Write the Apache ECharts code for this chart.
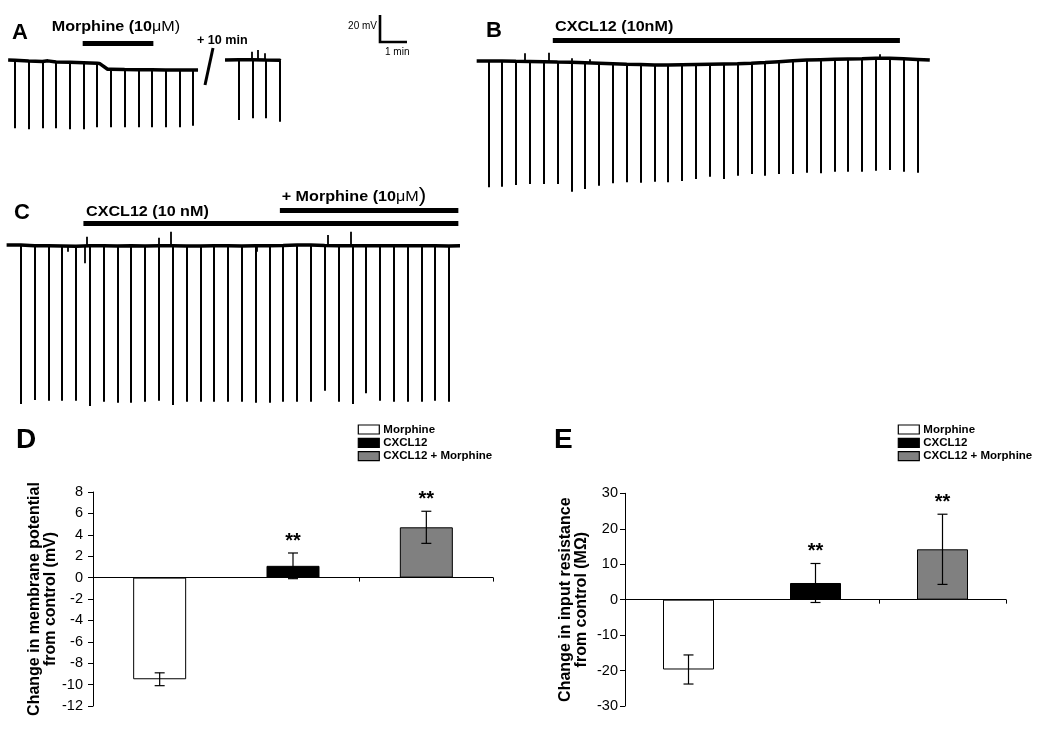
<!DOCTYPE html>
<html>
<head>
<meta charset="utf-8">
<script src="https://cdn.jsdelivr.net/npm/echarts@6/dist/echarts.min.js"></script>
<style>html,body{margin:0;padding:0;background:#fff}#c{width:1050px;height:730px}</style>
</head>
<body>
<div id="c"></div>
<script>
// ---------- Trace data (time in min, membrane potential in mV) ----------
// Panel A, before break
const aTimes   = [0,0.5,1,1.5,2,2.5,3,3.5,4,4.5,5,5.5,6,6.5];
const aTops    = [-59.5,-60,-60.3,-60.7,-61,-61.3,-61.7,-66.2,-66.4,-66.5,-66.5,-66.7,-66.8,-66.8];
const aBottoms = [-110.5,-111.2,-110.5,-110.5,-111.2,-111.2,-109.7,-109.7,-109.7,-109.7,-109.7,-109.7,-109.7,-108.5];
const aExtra   = [[-0.25,-59.3],[1.2,-59.9],[3.08,-61.8],[3.38,-66.2],[6.68,-66.8]];
const aSpikes  = [];
// Panel A, after +10 min
const a2Times   = [0.5,1.0,1.5,2.0];
const a2Tops    = [-59,-59,-59.3,-59.5];
const a2Bottoms = [-104.3,-103,-103,-105.5];
const a2Extra   = [[0,-59.3],[2.03,-59.8]];
const a2Spikes  = [[0.97,-59,-53],[1.21,-59.1,-51.8],[1.46,-59.3,-54.2]];
// Panel B
const bTimes   = [0,0.5,1,1.5,2,2.5,3,3.5,4,4.5,5,5.5,6,6.5,7,7.5,8,8.5,9,9.5,10,10.5,11,11.5,12,12.5,13,13.5,14,14.5,15,15.5];
const bTops    = [-60,-60,-60.2,-60.3,-60.5,-60.8,-61,-61.3,-61.6,-62,-62.4,-62.7,-63,-63,-62.8,-62.6,-62.4,-62.2,-62,-61.7,-61.2,-60.5,-59.8,-59.3,-59,-58.7,-58.5,-58.3,-58,-58,-58.3,-58.8];
const bBottoms = [-154.7,-154.3,-153,-152.3,-152.3,-152.3,-158,-156,-153.5,-151.7,-151,-151.3,-150.5,-151,-150,-148.5,-146.8,-148.5,-146,-144.8,-146,-144.8,-144.8,-143.8,-144.2,-143,-143,-143,-142.3,-141.8,-143,-143.8];
const bExtra   = [[-0.42,-60],[15.95,-59.3]];
const bSpikes  = [[1.33,-60.3,-54.2],[2.19,-60.6,-53.8],[3.01,-61,-58],[3.67,-61.4,-58.7],[14.15,-58,-55]];
// Panel C
const cTimes   = [0,0.5,1,1.5,2,2.5,3,3.5,4,4.5,5,5.5,6,6.5,7,7.5,8,8.5,9,9.5,10,10.5,11,11.5,12,12.5,13,13.5,14,14.5,15,15.5];
const cTops    = [-59.5,-60,-60,-60.2,-60.5,-60,-60,-60.2,-60,-60.3,-60,-60,-60.3,-60.2,-60,-60,-60.3,-60,-60,-59.8,-59.5,-59.5,-59.8,-60,-60,-60,-60,-60,-60,-60,-60,-60.2];
const cBottoms = [-178.7,-175.7,-176.2,-176.2,-176.2,-180.2,-177,-177.7,-177.7,-177,-176.2,-179.5,-177,-177,-177,-177,-177,-177.7,-177.7,-177,-177,-177,-168.7,-177,-178.7,-170.7,-176.2,-177,-177,-177,-176.2,-177];
const cExtra   = [[-0.51,-59.5],[15.9,-60]];
const cSpikes  = [[1.72,-60,-64.5],[2.33,-60,-73.2],[2.4,-60,-53.3],[4.98,-60,-54],[5.43,-60,-49.5],[8.54,-60,-64.5],[11.13,-60,-52],[11.96,-60,-49.5]];
// Drug application bars: [start min, end min, level mV]
const drugBarsA = [[2.47,5.05,-46.7]];
const drugBarsB = [[2.33,14.87,-44.25]];
const drugBarsC = [[2.27,15.84,-43.2],[9.38,15.84,-33.75]];

// ---------- Bar chart data ----------
const groups = ['Morphine','CXCL12','CXCL12 + Morphine'];
const meanD = [-9.5, 1.1, 4.7];
const errD  = [0.6, 1.2, 1.5];
const sigD  = ['', '**', '**'];
const meanE = [-19.7, 4.7, 14.2];
const errE  = [4.1, 5.5, 9.9];
const sigE  = ['', '**', '**'];
const ticksD = {min:-12, max:8, interval:2};
const ticksE = {min:-30, max:30, interval:10};

// ---------- styling / layout ----------
const FONT = "'Liberation Sans', Arial, Helvetica, sans-serif";
const groupColors = ['#ffffff','#000000','#808080'];

const traceGrids = [
  {left:1.3,   top:34.33, width:205.5,  height:100,    xMin:-0.5, xMax:7,    yMin:-115, yMax:-40},
  {left:225,   top:34.33, width:60.28,  height:100,    xMin:0,    xMax:2.2,  yMin:-115, yMax:-40},
  {left:474.46,top:34.33, width:470.56, height:166.67, xMin:-0.5, xMax:16.5, yMin:-165, yMax:-40},
  {left:4.12,  top:205.7, width:458.66, height:213.33, xMin:-0.6, xMax:16,   yMin:-190, yMax:-30}
];

function traceSeries(idx, times, tops, bottoms, extra, spikes, drugs) {
  const base = extra.concat(times.map((t,i)=>[t,tops[i]])).sort((a,b)=>a[0]-b[0]);
  const s = [
    {type:'line', xAxisIndex:idx, yAxisIndex:idx, data:base, symbol:'none', silent:true,
     lineStyle:{color:'#000', width:3.5}},
    {type:'lines', coordinateSystem:'cartesian2d', xAxisIndex:idx, yAxisIndex:idx, silent:true,
     data: times.map((t,i)=>({coords:[[t,tops[i]],[t,bottoms[i]]]})),
     lineStyle:{color:'#000', width:2, opacity:1}}
  ];
  if (spikes.length) s.push({type:'lines', coordinateSystem:'cartesian2d', xAxisIndex:idx, yAxisIndex:idx, silent:true,
     data: spikes.map(p=>({coords:[[p[0],p[1]],[p[0],p[2]]]})),
     lineStyle:{color:'#000', width:1.8, opacity:1}});
  if (drugs && drugs.length) s.push({type:'lines', coordinateSystem:'cartesian2d', xAxisIndex:idx, yAxisIndex:idx, silent:true,
     data: drugs.map(d=>({coords:[[d[0],d[2]],[d[1],d[2]]]})),
     lineStyle:{color:'#000', width:5, opacity:1}});
  return s;
}

function barSeries(means, axis, bw) {
  return groups.map((g,k)=>({
    type:'bar', name:g, xAxisIndex:axis, yAxisIndex:axis,
    data: means.map((v,i)=> i===k ? v : '-'),
    barWidth:bw, barGap:'-100%', silent:true,
    itemStyle:{color:groupColors[k], borderColor:'#000', borderWidth:1}
  }));
}

function errSeries(means, errs, sigs, axis) {
  return {
    type:'custom', xAxisIndex:axis, yAxisIndex:axis, z:5, silent:true, clip:false,
    data: means.map((m,i)=>[i, m, errs[i]]),
    renderItem: function(params, api) {
      const i = api.value(0), m = api.value(1), e = api.value(2);
      const top = api.coord([i, m+e]);
      const bot = api.coord([i, m-e]);
      const st = {stroke:'#000', lineWidth:1.2};
      const ch = [
        {type:'line', shape:{x1:top[0], y1:top[1], x2:bot[0], y2:bot[1]}, style:st},
        {type:'line', shape:{x1:top[0]-5, y1:top[1], x2:top[0]+5, y2:top[1]}, style:st},
        {type:'line', shape:{x1:bot[0]-5, y1:bot[1], x2:bot[0]+5, y2:bot[1]}, style:st}
      ];
      const sg = sigs[params.dataIndex];
      if (sg) ch.push({type:'text', style:{text:sg, x:top[0], y:top[1]-12, align:'center', verticalAlign:'middle',
        fontSize:20, fontWeight:'bold', fontFamily:FONT, fill:'#000'}});
      return {type:'group', children:ch};
    }
  };
}

function valueAxisBar(idx, t, name, gap, margin) {
  return {type:'value', gridIndex:idx, min:t.min, max:t.max, interval:t.interval,
    axisLine:{show:true, lineStyle:{color:'#000', width:1}},
    axisTick:{show:true, length:5, lineStyle:{color:'#000'}},
    splitLine:{show:false},
    axisLabel:{color:'#000', fontSize:14.5, fontFamily:FONT, margin:margin},
    name:name, nameLocation:'middle', nameGap:gap, nameRotate:90,
    nameTextStyle:{color:'#000', fontSize:16, fontWeight:'bold', fontFamily:FONT, lineHeight:16, align:'center'}};
}
function catAxisBar(idx) {
  return {type:'category', gridIndex:idx, data:groups,
    axisLine:{show:true, onZero:true, lineStyle:{color:'#000', width:1}},
    axisTick:{show:true, length:4, lineStyle:{color:'#000'}},
    axisLabel:{show:false}, splitLine:{show:false}};
}

const grids = traceGrids.map(g=>({left:g.left, top:g.top, width:g.width, height:g.height, outerBoundsMode:'none'}));
grids.push({left:93, top:492, width:400, height:214, outerBoundsMode:'none'});
grids.push({left:625, top:493.3, width:381, height:212.7, outerBoundsMode:'none'});

const xAxes = traceGrids.map((g,i)=>({type:'value', gridIndex:i, min:g.xMin, max:g.xMax, show:false}));
const yAxes = traceGrids.map((g,i)=>({type:'value', gridIndex:i, min:g.yMin, max:g.yMax, show:false}));
xAxes.push(catAxisBar(4), catAxisBar(5));
yAxes.push(valueAxisBar(4, ticksD, 'Change in membrane potential\nfrom control (mV)', 33, 10));
yAxes.push(valueAxisBar(5, ticksE, 'Change in input resistance\nfrom control (M\u03A9)', 35.5, 7));

let series = [];
series = series.concat(traceSeries(0, aTimes, aTops, aBottoms, aExtra, aSpikes, drugBarsA));
series = series.concat(traceSeries(1, a2Times, a2Tops, a2Bottoms, a2Extra, a2Spikes, null));
series = series.concat(traceSeries(2, bTimes, bTops, bBottoms, bExtra, bSpikes, drugBarsB));
series = series.concat(traceSeries(3, cTimes, cTops, cBottoms, cExtra, cSpikes, drugBarsC));
series = series.concat(barSeries(meanD, 4, 53));
series = series.concat(barSeries(meanE, 5, 51));
series.push(errSeries(meanD, errD, sigD, 4));
series.push(errSeries(meanE, errE, sigE, 5));

function legendAt(left) {
  return {orient:'vertical', left:left, top:423.5, padding:0, itemWidth:21, itemHeight:9, itemGap:1.3,
    selectedMode:false, icon:'rect', data:groups,
    itemStyle:{borderColor:'#000', borderWidth:1.2},
    textStyle:{color:'#000', fontSize:11.5, fontWeight:'bold', fontFamily:FONT, lineHeight:12, padding:[0,0,0,-1]}};
}

const boldRich = {
  b:{fontSize:15, fontWeight:'bold', fontFamily:FONT, fill:'#000'},
  r:{fontSize:15, fontWeight:'normal', fontFamily:FONT, fill:'#000'},
  p:{fontSize:21, fontWeight:'normal', fontFamily:FONT, fill:'#000'}
};
function label(text, x, y, sx) {
  return {type:'text', x:x, y:y, scaleX:sx||1.075, silent:true,
    style:{text:text, rich:boldRich, verticalAlign:'middle', align:'left', fill:'#000'}};
}
function letter(t, x, y, size) {
  return {type:'text', x:x, y:y, silent:true,
    style:{text:t, fontSize:size, fontWeight:'bold', fontFamily:FONT, fill:'#000', verticalAlign:'middle', align:'left'}};
}

const graphics = [
  letter('A', 12, 33, 22), letter('B', 486, 31, 22), letter('C', 14, 213, 22),
  letter('D', 16, 440, 28), letter('E', 554, 440, 28),
  label('{b|Morphine (10}{r|\u03BCM)}', 51.7, 27),
  label('{b|CXCL12 (10nM)}', 555, 26.5),
  label('{b|CXCL12 (10 nM)}', 86, 212),
  label('{b|+ Morphine (10}{r|\u03BCM}{p|)}', 281.7, 196.5),
  {type:'text', x:197, y:41, scaleX:1.05, silent:true,
   style:{text:'+ 10 min', fontSize:12, fontWeight:'bold', fontFamily:FONT, fill:'#000', verticalAlign:'middle'}},
  {type:'line', silent:true, shape:{x1:213, y1:48, x2:205, y2:85}, style:{stroke:'#000', lineWidth:3}},
  {type:'polyline', silent:true, shape:{points:[[380,15],[380,42],[407,42]]}, style:{stroke:'#000', lineWidth:2.6, fill:null}},
  {type:'text', x:377, y:26, silent:true,
   style:{text:'20 mV', fontSize:10, fontFamily:FONT, fill:'#000', align:'right', verticalAlign:'middle'}},
  {type:'text', x:385, y:52, silent:true,
   style:{text:'1 min', fontSize:10, fontFamily:FONT, fill:'#000', align:'left', verticalAlign:'middle'}}
];

const chart = echarts.init(document.getElementById('c'), null, {renderer:'canvas'});
chart.setOption({
  animation:false,
  backgroundColor:'#fff',
  textStyle:{fontFamily:FONT},
  grid:grids, xAxis:xAxes, yAxis:yAxes,
  legend:[legendAt(357.7), legendAt(897.7)],
  series:series,
  graphic:graphics
});
</script>
</body>
</html>
